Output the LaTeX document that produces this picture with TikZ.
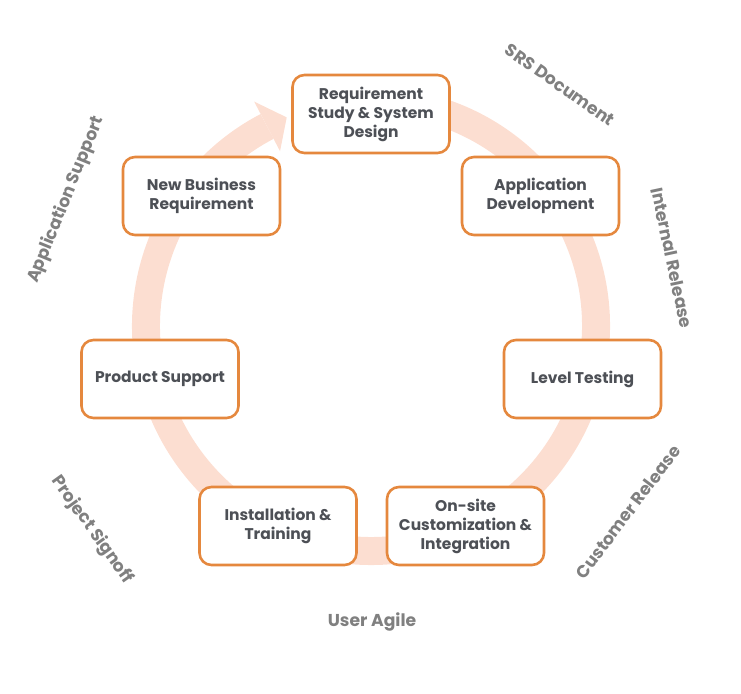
\documentclass[tikz,border=0pt]{standalone}
\usepackage{fontspec}
\setmainfont{Poppins}
\usetikzlibrary{positioning}
\definecolor{ringc}{RGB}{252,222,209}
\definecolor{boxline}{RGB}{229,136,62}
\definecolor{boxtext}{RGB}{77,80,86}
\definecolor{labgray}{RGB}{128,128,128}
\tikzset{
  stage/.style={draw=boxline, line width=2.6pt, fill=white, rounded corners=12pt,
    minimum width=157pt, minimum height=78pt, align=center, text=boxtext,
    font=\fontsize{15.5}{19}\selectfont\bfseries, inner sep=2pt},
  phase/.style={text=labgray, font=\fontsize{17.2}{18}\selectfont\bfseries, inner sep=0pt}
}
\begin{document}
\begin{tikzpicture}[x=1pt,y=1pt]
\useasboundingbox (0,0) rectangle (741,693);
% ring with arrow
\begin{scope}[shift={(371,367)}]
  \draw[ringc, line width=28pt] (80:225) arc[start angle=80, end angle=-242.5, radius=225];
  \fill[ringc] (117.5:253) -- (112:225) -- (117.5:197) -- cycle;
\end{scope}
% stages
\node[stage] (req) at (371,579) {Requirement\\Study \& System\\Design};
\node[stage] (dev) at (540.5,497) {Application\\Development};
\node[stage] (test) at (582.5,314) {Level Testing};
\node[stage] (onsite) at (465.5,167) {On-site\\Customization \&\\Integration};
\node[stage] (inst) at (278,167) {Installation \&\\Training};
\node[stage] (prod) at (160,314) {Product Support};
\node[stage] (newb) at (201.5,497) {New Business\\Requirement};
% phase labels
\node[phase, rotate=-35] (srs) at (560,608) {SRS Document};
\node[phase, rotate=-78] (intr) at (672,435) {Internal Release};
\node[phase, rotate=53] (cust) at (628,181) {Customer Release};
\node[phase] (agile) at (372,71) {User Agile};
\node[phase, rotate=-54.5] (sign) at (92,163) {Project Signoff};
\node[phase, rotate=68] (apps) at (66,493) {Application Support};
\end{tikzpicture}
\end{document}
